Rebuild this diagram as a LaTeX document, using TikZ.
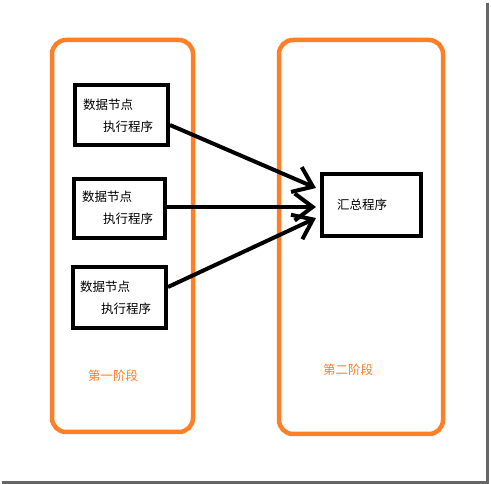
\documentclass[tikz,border=0pt]{standalone}
\usepackage{fontspec}
\newfontfamily\cjk{Noto Sans CJK SC}
\usetikzlibrary{arrows.meta}
\definecolor{stageorange}{HTML}{FF7F27}
\tikzset{
  stage/.style={draw=stageorange, line width=4.5pt, rounded corners=14pt},
  workbox/.style={draw=black, line width=4pt, inner sep=0pt, fill=white},
  txt/.style={anchor=west, inner sep=0pt, font=\cjk\fontsize{12.5}{14}\selectfont},
  stagetxt/.style={txt, text=stageorange},
  flow/.style={line width=4pt, -{Straight Barb[length=18pt, width=27pt, line width=4pt]}},
  frameshadow/.style={line width=3pt, draw=black!60}
}
\begin{document}
\begin{tikzpicture}[x=1pt, y=-1pt]
  \useasboundingbox[fill=white] (0,0) rectangle (491,484);
  % screenshot shadow
  \draw[frameshadow] (487.5,3) -- (487.5,482.5) -- (2,482.5);
  % stages
  \draw[stage] (52,40) rectangle (193,432);
  \draw[stage] (279,40) rectangle (443,434);
  % boxes
  \node[workbox, minimum width=93pt, minimum height=60pt] (b1) at (121.5,115) {};
  \node[workbox, minimum width=91pt, minimum height=59pt] (b2) at (119.5,208.5) {};
  \node[workbox, minimum width=93pt, minimum height=61pt] (b3) at (119.5,297.5) {};
  \node[workbox, minimum width=99pt, minimum height=62pt] (c) at (371.5,205) {};
  % texts
  \node[txt] (t1a) at (83,105) {数据节点};
  \node[txt] (t1b) at (103,127) {执行程序};
  \node[txt] (t2a) at (82,197) {数据节点};
  \node[txt] (t2b) at (103,219) {执行程序};
  \node[txt] (t3a) at (80,287) {数据节点};
  \node[txt] (t3b) at (101,309) {执行程序};
  \node[txt] (ct) at (337,205) {汇总程序};
  \node[stagetxt] (s1) at (88,376) {第一阶段};
  \node[stagetxt] (s2) at (323,370) {第二阶段};
  % arrows
  \draw[flow] ([yshift=-10pt]b1.east) -- ([xshift=-4pt,yshift=17pt]c.west);
  \draw[flow] ([yshift=1.5pt]b2.east) -- ([xshift=-4pt,yshift=-2pt]c.west);
  \draw[flow] ([yshift=10.5pt]b3.east) -- ([xshift=-4pt,yshift=-13pt]c.west);
\end{tikzpicture}
\end{document}
